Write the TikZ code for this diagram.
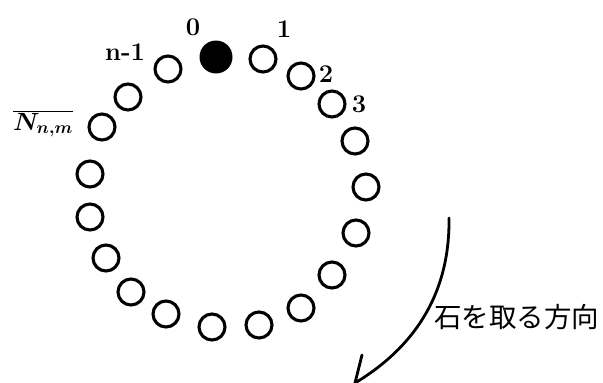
\documentclass[tikz,border=0pt]{standalone}
\usepackage{fontspec}
\newfontfamily\cjk{Noto Sans CJK JP}
\newcommand{\Nbar}{\ensuremath{\overline{N_{n,m}}}}
\begin{document}
\begin{tikzpicture}[x=1pt,y=-1pt,
  stone/.style={circle,draw=black,line width=3.1pt,minimum size=26pt,inner sep=0pt},
  taken/.style={circle,fill=black,minimum size=33pt,inner sep=0pt},
  idx/.style={font=\fontsize{25.5}{30}\selectfont\bfseries\boldmath,anchor=base,inner sep=0pt},
  dirarrow/.style={line width=2.8pt,line cap=round,line join=round}]
\clip (0,0) rectangle (603,383);
\fill[white] (0,0) rectangle (603,383);

% stones around the ring, clockwise from stone 0
\node[taken] (s0)  at (216,57)  {};
\node[stone] (s1)  at (263,59)  {};
\node[stone] (s2)  at (301,76)  {};
\node[stone] (s3)  at (332,104) {};
\node[stone] (s4)  at (355,141) {};
\node[stone] (s5)  at (366,187) {};
\node[stone] (s6)  at (356,233) {};
\node[stone] (s7)  at (332,275) {};
\node[stone] (s8)  at (301,308) {};
\node[stone] (s9)  at (259,325) {};
\node[stone] (s10) at (212,327) {};
\node[stone] (s11) at (166,314) {};
\node[stone] (s12) at (131,292) {};
\node[stone] (s13) at (106,258) {};
\node[stone] (s14) at (90,217)  {};
\node[stone] (s15) at (90,174)  {};
\node[stone] (s16) at (102,127) {};
\node[stone] (s17) at (128,97)  {};
\node[stone] (s18) at (168,69)  {};

% indices
\node[idx] (l0)  at (193,35)  {0};
\node[idx] (l1)  at (284,37)  {1};
\node[idx] (l2)  at (326,82)  {2};
\node[idx] (l3)  at (359,112) {3};
\node[idx] (ln)  at (125,60)  {n-1};
\node[idx] (lN)  at (43,130)  {\Nbar};

% direction of taking stones
\coordinate (from) at (449,218);
\coordinate (tip)  at (355,383);
\coordinate (barb) at (362,355);
\draw[dirarrow] (from) .. controls (450,290) and (418,345) .. (tip) -- (barb);
\node[font=\cjk\fontsize{27.5}{30}\selectfont,anchor=west,inner sep=0pt] (dir) at (434,317) {石を取る方向};
\end{tikzpicture}
\end{document}
